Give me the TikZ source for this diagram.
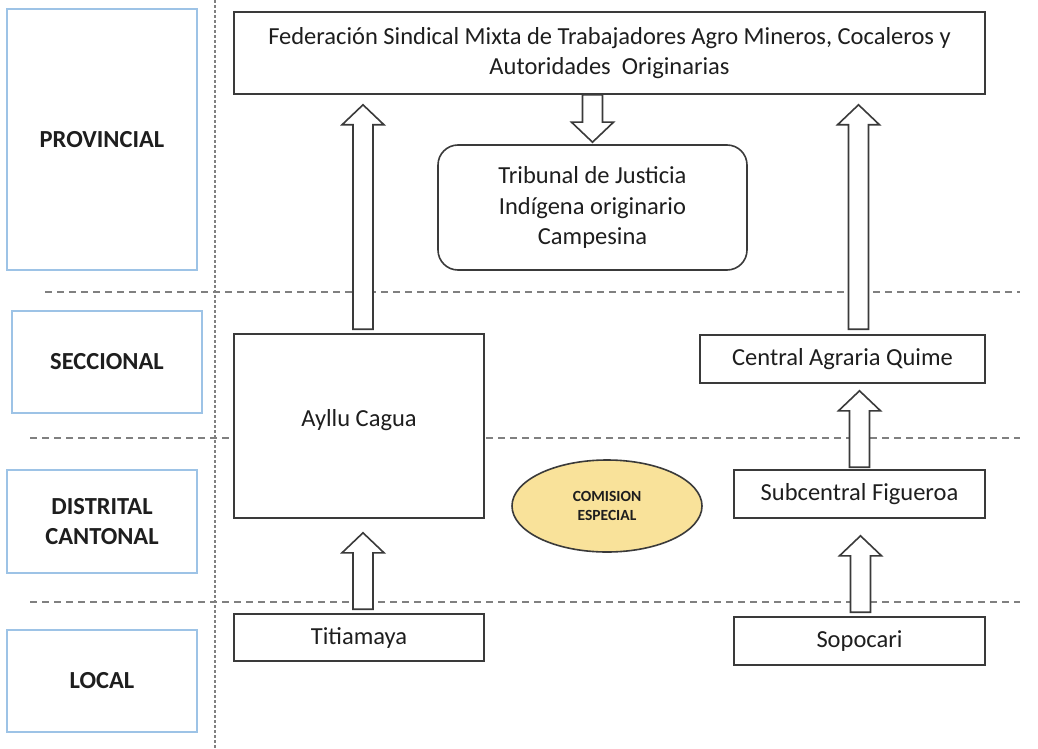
\documentclass[tikz,border=0pt]{standalone}
\usepackage{fontspec}
\setmainfont{Carlito}
\usetikzlibrary{calc,shapes.geometric,positioning}
\definecolor{lvblue}{HTML}{9DC3E6}
\definecolor{boxink}{HTML}{3A3A3A}
\definecolor{txtink}{HTML}{1E1E1E}
\definecolor{sepgray}{HTML}{808080}
\definecolor{comfill}{HTML}{F9E29A}
\tikzset{
  lvl/.style={draw=lvblue,line width=2pt,fill=white,minimum width=190pt,
              minimum height=102pt,inner sep=0pt,align=center,text=txtink,
              font=\fontsize{24.5}{30}\selectfont\bfseries},
  org/.style={draw=boxink,line width=1.6pt,fill=white,inner sep=0pt,
              align=center,text=txtink,font=\fontsize{24.5}{30.5}\selectfont},
  trib/.style={org,rounded corners=20pt},
  comi/.style={ellipse,draw=boxink,line width=1.6pt,fill=comfill,inner sep=0pt,
              minimum width=190pt,minimum height=92pt,align=center,text=txtink,
              font=\fontsize{15.5}{19}\selectfont\bfseries},
  blockarr/.style={draw=boxink,line width=1.6pt,fill=white,line join=miter},
  sepline/.style={draw=sepgray,line width=1.5pt,dash pattern=on 7pt off 5pt},
  vsep/.style={draw=sepgray,line width=1.6pt,dash pattern=on 3pt off 2pt},
}
% hollow block arrow between two points (vertical)
\newcommand{\blockarrow}[2]{%
  \draw[blockarr] let \p1=(#1), \p2=(#2), \p3=($(#2)!20pt!(#1)$) in
    (\x1-10pt,\y1) -- (\x3-10pt,\y3) -- (\x3-21pt,\y3) -- (\x2,\y2)
    -- (\x3+21pt,\y3) -- (\x3+10pt,\y3) -- (\x1+10pt,\y1) -- cycle;}

\begin{document}
\begin{tikzpicture}[x=1pt,y=-1pt]
  \useasboundingbox[fill=white] (0,0) rectangle (1038,749);

  % ---- level separators ----
  \draw[vsep] (215,0) -- (215,749);
  \draw[sepline] (45,292) -- (1020,292);
  \draw[sepline] (30,438) -- (1020,438);
  \draw[sepline] (30,602) -- (1020,602);

  % ---- levels ----
  \node[lvl,minimum height=261pt] (prov)  at (102,139.5) {PROVINCIAL};
  \node[lvl]                      (secc)  at (107,362)   {SECCIONAL};
  \node[lvl,minimum height=103pt] (dist)  at (102,521.5) {DISTRITAL\\CANTONAL};
  \node[lvl]                      (local) at (102,681)   {LOCAL};

  % ---- organisations ----
  \node[org,minimum width=751pt,minimum height=82pt] (fed) at (609.5,53)
    {Federación Sindical Mixta de Trabajadores Agro Mineros, Cocaleros y\\Autoridades\ \ Originarias};
  \node[trib,minimum width=309pt,minimum height=125pt] (tribunal) at (592.5,207.5)
    {Tribunal de Justicia\\Indígena originario\\Campesina};
  \node[org,minimum width=250pt,minimum height=184pt,text depth=16pt] (ayllu) at (359,426) {Ayllu Cagua};
  \node[org,minimum width=285pt,minimum height=48pt] (central) at (842.5,359) {Central Agraria Quime};
  \node[org,minimum width=251pt,minimum height=48pt] (subc) at (859.5,494) {Subcentral Figueroa};
  \node[org,minimum width=251pt,minimum height=48pt] (sopo) at (859.5,641) {Sopocari};
  \node[org,minimum width=250pt,minimum height=47pt] (titia) at (359,637.5) {Titiamaya};
  \node[comi] (comision) at (607,506) {COMISION\\ESPECIAL};

  % ---- block arrows ----
  \blockarrow{$(ayllu.north)+(4,-4)$}{$(ayllu.north |- fed.south)+(4,10)$}
  \blockarrow{$(central.north)+(16,-5)$}{$(central.north |- fed.south)+(16,10)$}
  \blockarrow{tribunal.north |- fed.south}{$(tribunal.north)+(0,-2)$}
  \blockarrow{$(subc.north)+(0,-2)$}{$(subc.north |- central.south)+(0,7)$}
  \blockarrow{$(sopo.north)+(1,-4)$}{$(sopo.north |- subc.south)+(1,17)$}
  \blockarrow{$(titia.north)+(4,-4)$}{$(titia.north |- ayllu.south)+(4,14)$}
\end{tikzpicture}
\end{document}
